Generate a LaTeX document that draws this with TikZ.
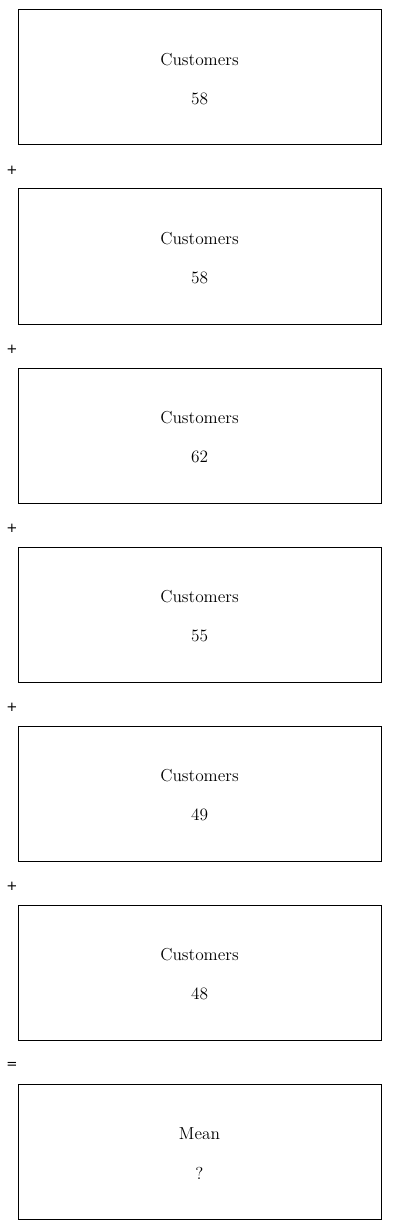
\documentclass[tikz,border=0pt]{standalone}
\usepackage{fontspec}
\usetikzlibrary{calc}
\newfontfamily\opfont{DejaVu Sans}
\begin{document}
\begin{tikzpicture}[x=0.75pt,y=-0.75pt,
  box/.style={draw=black,line width=0.75pt,minimum width=272.25pt,minimum height=101.25pt,inner sep=0pt},
  lbl/.style={font=\fontsize{13}{15}\selectfont,inner sep=0pt},
  op/.style={font=\opfont\fontsize{10}{12}\selectfont,inner sep=0pt}]
\useasboundingbox (0,0) rectangle (400,1230);
\foreach \t/\v [count=\i from 0] in {Customers/58,Customers/58,Customers/62,Customers/55,Customers/49,Customers/48,Mean/?}{
  \node[box] (b\i) at (199.5,{77.5+179*\i}) {};
  \node[lbl] (t\i) at ($(b\i.center)+(0,-17.5)$) {\t};
  \node[lbl] (n\i) at ($(b\i.center)+(0,21.5)$) {\v};
}
\foreach \i in {0,...,4}{
  \node[op] (o\i) at (12,{170.5+179*\i}) {+};
}
\node[op] (o5) at (12,{170.5+179*5}) {=};
\end{tikzpicture}
\end{document}
